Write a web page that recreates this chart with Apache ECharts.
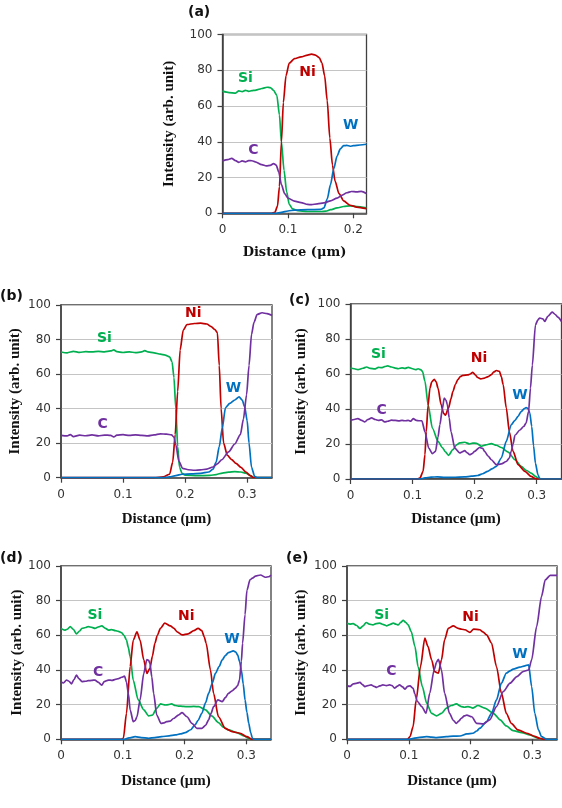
<!DOCTYPE html>
<html><head><meta charset="utf-8">
<script src="https://cdn.jsdelivr.net/npm/echarts@6/dist/echarts.min.js"></script>
<style>html,body{margin:0;padding:0;background:#fff}#c{width:562px;height:808px}</style>
</head><body><div id="c"></div>
<script>
// ---------- DATA (distance in µm, intensity in arb. unit) ----------
const A_Si = [[0,68.3],[0.01,67.5],[0.02,67.2],[0.025,68.5],[0.03,68],[0.035,68.8],[0.04,68.2],[0.045,68.6],[0.05,68.8],[0.055,69.3],[0.06,69.8],[0.068,70.5],[0.073,70.3],[0.078,68.8],[0.083,66],[0.087,55],[0.09,40],[0.094,24],[0.098,12],[0.102,5],[0.107,2.5],[0.115,1.5],[0.13,1],[0.15,1],[0.158,1.2],[0.165,2],[0.175,3],[0.185,3.8],[0.195,4.2],[0.205,3.8],[0.22,3]];
const A_Ni = [[0,0],[0.075,0],[0.08,0.5],[0.084,4],[0.087,15],[0.09,40],[0.093,62],[0.097,77],[0.102,84],[0.11,86.5],[0.12,87.5],[0.13,88.5],[0.136,89],[0.142,88.5],[0.148,87],[0.152,84],[0.156,77],[0.16,63],[0.164,42],[0.168,27],[0.172,18],[0.178,11],[0.185,7],[0.195,4.5],[0.205,3.5],[0.22,2.6]];
const A_W  = [[0,0],[0.082,0],[0.09,0.5],[0.1,1.3],[0.11,1.8],[0.13,2],[0.15,2.2],[0.155,3],[0.16,8],[0.165,16],[0.17,25],[0.175,32],[0.18,36],[0.185,37.8],[0.19,38],[0.195,37.5],[0.2,37.8],[0.21,38.2],[0.22,38.6]];
const A_C  = [[0,29.3],[0.008,30],[0.014,30.7],[0.02,29.5],[0.025,28.5],[0.03,29.3],[0.035,28.8],[0.04,29.5],[0.045,29.4],[0.05,28.8],[0.06,27.2],[0.067,26.5],[0.073,26.8],[0.078,27.8],[0.082,27],[0.086,23],[0.09,16],[0.095,11],[0.1,8.5],[0.11,6.8],[0.12,6],[0.13,5],[0.136,4.8],[0.145,5.3],[0.155,5.8],[0.165,7],[0.175,8.5],[0.183,10.2],[0.19,11.5],[0.197,12.2],[0.205,12],[0.212,12.3],[0.22,11]];

const B_Si = [[0,72.8],[0.01,72.3],[0.02,73.2],[0.03,72.6],[0.04,73],[0.05,72.8],[0.06,73.2],[0.07,72.9],[0.08,73.4],[0.085,74],[0.09,73],[0.1,72.5],[0.11,72.9],[0.12,72.4],[0.13,72.8],[0.135,73.6],[0.14,72.8],[0.15,72.3],[0.16,71.5],[0.168,71],[0.175,70],[0.179,67],[0.182,58],[0.185,40],[0.188,18],[0.191,6],[0.195,2.5],[0.2,1.5],[0.22,1.2],[0.24,1.3],[0.25,1.8],[0.26,2.7],[0.27,3.2],[0.28,3.5],[0.29,3.3],[0.298,2.6],[0.305,1.2],[0.312,0],[0.34,0]];
const B_Ni = [[0,0],[0.15,0],[0.165,0.5],[0.175,2],[0.18,9],[0.184,25],[0.188,50],[0.192,74],[0.197,85.5],[0.203,88.7],[0.215,89.3],[0.225,89.5],[0.235,89],[0.242,87.5],[0.248,85.8],[0.252,84],[0.255,65],[0.258,40],[0.262,20],[0.268,13],[0.275,10.5],[0.282,8.3],[0.29,6],[0.298,3.2],[0.305,1.2],[0.31,0],[0.34,0]];
const B_W  = [[0,0],[0.165,0],[0.175,0.5],[0.185,1.2],[0.195,2],[0.21,2.2],[0.225,2.5],[0.238,3.3],[0.245,5],[0.25,9],[0.255,18],[0.26,29],[0.265,40.5],[0.272,43],[0.28,45],[0.287,46.8],[0.292,45],[0.296,41],[0.3,33],[0.303,20],[0.307,6],[0.312,0.8],[0.316,0],[0.34,0]];
const B_C  = [[0,24.5],[0.01,24.2],[0.015,25],[0.02,23.8],[0.03,24.6],[0.04,24.3],[0.05,24.8],[0.06,24.2],[0.07,24.7],[0.08,24.5],[0.085,23.6],[0.09,24.6],[0.1,24.9],[0.11,24.5],[0.12,24.8],[0.13,24.5],[0.14,24.2],[0.15,24.8],[0.16,25.4],[0.17,25.2],[0.178,24.8],[0.182,23.5],[0.185,19],[0.19,9.5],[0.196,5.4],[0.205,4.6],[0.215,4.3],[0.225,4.5],[0.235,5],[0.245,6.2],[0.252,8],[0.259,10.4],[0.27,14.9],[0.28,19.5],[0.289,25],[0.294,34],[0.299,48],[0.303,65],[0.307,83],[0.311,90],[0.316,94.5],[0.324,95.5],[0.332,95],[0.34,94]];

const C_Si = [[0,63.4],[0.006,63],[0.012,62.5],[0.02,63.3],[0.026,64],[0.032,63.2],[0.039,62.9],[0.045,63.8],[0.05,63.6],[0.055,64.2],[0.06,64.6],[0.066,64],[0.072,63.4],[0.077,63],[0.083,63.5],[0.088,63.2],[0.093,63.8],[0.1,63],[0.105,62.5],[0.109,63],[0.113,62.5],[0.116,61.5],[0.12,55.8],[0.125,42.5],[0.132,29],[0.141,21.5],[0.148,18],[0.153,15.5],[0.158,13.5],[0.165,16.8],[0.171,19.5],[0.176,20.6],[0.184,21],[0.192,20],[0.197,20.5],[0.203,20.4],[0.211,18.7],[0.218,19.5],[0.227,20.2],[0.235,19.3],[0.243,18],[0.254,15.4],[0.265,11],[0.275,7.2],[0.283,5],[0.291,3.4],[0.298,1.5],[0.303,0.4],[0.308,0],[0.34,0]];
const C_Ni = [[0,0],[0.108,0],[0.112,0.6],[0.117,4.4],[0.12,14],[0.122,27],[0.125,42],[0.128,52],[0.131,55.5],[0.135,57],[0.138,55.5],[0.141,52],[0.146,42.5],[0.15,37.5],[0.153,36.5],[0.158,40.6],[0.162,46],[0.165,50],[0.169,54],[0.173,56.8],[0.177,58.5],[0.181,59.2],[0.189,59.5],[0.193,60],[0.197,61],[0.201,59.5],[0.205,58],[0.21,57.2],[0.216,57.7],[0.222,58.5],[0.227,59.6],[0.231,61.2],[0.235,62],[0.24,61.5],[0.243,58.5],[0.246,54],[0.251,40.6],[0.256,27],[0.262,15.8],[0.27,8.2],[0.281,4.4],[0.291,1.5],[0.298,0.2],[0.302,0],[0.34,0]];
const C_W  = [[0,0],[0.112,0],[0.12,0.6],[0.13,1.1],[0.14,1.2],[0.152,0.9],[0.165,1],[0.184,1.2],[0.195,1.6],[0.205,2],[0.213,3],[0.221,4.4],[0.228,5.8],[0.235,7.2],[0.243,12],[0.251,21.5],[0.259,31],[0.265,33.5],[0.27,35.8],[0.275,38.5],[0.28,40.2],[0.283,40.8],[0.286,40.3],[0.289,37.7],[0.292,30],[0.295,19],[0.298,9],[0.302,2.5],[0.305,0],[0.34,0]];
const C_C  = [[0,33.5],[0.006,34],[0.012,34.5],[0.018,33.5],[0.023,32.6],[0.028,34],[0.034,34.9],[0.04,34],[0.045,33.5],[0.05,33.8],[0.055,32.6],[0.06,33],[0.066,33.6],[0.072,33.5],[0.078,33.2],[0.083,33.5],[0.088,33.3],[0.093,33.5],[0.097,33],[0.101,34.5],[0.106,33.5],[0.111,33.3],[0.115,33.3],[0.12,27],[0.126,17.7],[0.132,14.5],[0.137,15.8],[0.141,24],[0.144,31],[0.148,40],[0.151,46.3],[0.154,45],[0.156,42.5],[0.159,35],[0.162,27],[0.168,17.7],[0.176,14.9],[0.18,15.5],[0.184,16.2],[0.188,15],[0.192,13.9],[0.196,14.5],[0.2,15.8],[0.208,18],[0.213,17.5],[0.216,15.8],[0.222,13],[0.227,11],[0.235,8.2],[0.243,8.6],[0.251,10],[0.256,12],[0.259,15.8],[0.262,20],[0.265,25],[0.273,28],[0.279,30],[0.283,32],[0.287,38.7],[0.29,52],[0.293,65],[0.298,88],[0.302,91],[0.305,92],[0.31,91.5],[0.313,90],[0.318,93],[0.325,95.4],[0.33,94],[0.334,92.5],[0.34,90]];

const D_Si = [[0,64],[0.006,63],[0.01,63.5],[0.015,65],[0.02,63.5],[0.025,60.8],[0.03,62.5],[0.034,64],[0.04,64.5],[0.044,65],[0.05,64.6],[0.055,64],[0.06,64.8],[0.066,65.4],[0.072,64],[0.077,63],[0.082,63.3],[0.088,62.7],[0.093,62.3],[0.098,61.5],[0.102,60],[0.106,57.3],[0.109,53],[0.112,47.7],[0.117,34],[0.125,22.7],[0.134,17],[0.142,13.5],[0.148,14],[0.155,17.9],[0.161,20.4],[0.169,19.8],[0.174,20],[0.179,20.4],[0.185,19.5],[0.19,19.2],[0.198,19],[0.206,18.8],[0.215,19],[0.223,18.8],[0.234,17],[0.244,13.5],[0.255,9.6],[0.263,7],[0.271,5.4],[0.285,3.8],[0.296,1.9],[0.306,0.2],[0.31,0],[0.34,0]];
const D_Ni = [[0,0],[0.098,0],[0.101,0.6],[0.106,15],[0.112,42],[0.117,57.3],[0.123,62],[0.128,57.3],[0.134,45.8],[0.139,38],[0.144,41],[0.148,48],[0.152,55.4],[0.156,60],[0.161,64],[0.168,67],[0.177,65.4],[0.183,64],[0.188,62],[0.196,60.2],[0.206,60.8],[0.215,62.7],[0.222,64],[0.228,62.7],[0.232,59],[0.235,55.4],[0.242,40],[0.247,26.5],[0.255,13],[0.266,6.3],[0.277,4.4],[0.29,3.5],[0.301,1.5],[0.309,0],[0.34,0]];
const D_W  = [[0,0],[0.103,0],[0.11,0.8],[0.12,1.5],[0.13,1],[0.142,0.6],[0.152,1],[0.163,1.5],[0.175,2],[0.185,2.5],[0.193,3.1],[0.201,3.8],[0.21,5.5],[0.217,8.3],[0.222,11],[0.228,15],[0.234,21],[0.239,26.5],[0.245,32.5],[0.25,38],[0.256,42],[0.261,45.8],[0.266,48.3],[0.271,50],[0.279,51],[0.283,50.3],[0.286,48.7],[0.289,45],[0.292,40],[0.295,32],[0.298,22.7],[0.301,15.5],[0.304,9.2],[0.307,4],[0.31,0.5],[0.313,0],[0.34,0]];
const D_C  = [[0,33.3],[0.004,32.5],[0.009,34.2],[0.013,33.5],[0.017,32],[0.021,34.5],[0.025,37],[0.029,35],[0.034,33.3],[0.04,33.5],[0.044,33.8],[0.05,34],[0.055,34.2],[0.06,33],[0.066,31.3],[0.07,33.3],[0.077,34.2],[0.083,34],[0.088,34.6],[0.093,35],[0.098,35.8],[0.103,36.5],[0.106,33],[0.109,26.5],[0.112,17],[0.117,10.2],[0.12,10.8],[0.123,13],[0.128,22.7],[0.134,38],[0.139,46],[0.142,45.5],[0.144,43.8],[0.147,36],[0.15,26.5],[0.155,14],[0.162,9.2],[0.167,9.5],[0.171,10.2],[0.177,10.5],[0.182,12],[0.19,14],[0.196,15.4],[0.204,13],[0.212,9.2],[0.22,6.3],[0.228,6.3],[0.234,8],[0.239,11.2],[0.243,15],[0.247,18.8],[0.254,22.7],[0.261,21.7],[0.266,24],[0.271,26.5],[0.277,28],[0.282,29.4],[0.286,31],[0.289,34.2],[0.292,45],[0.294,55.4],[0.298,72],[0.301,86],[0.306,92],[0.31,93],[0.315,94.2],[0.323,94.8],[0.331,93.5],[0.336,93.8],[0.34,94.8]];

const E_Si = [[0,67],[0.005,66.5],[0.01,66.7],[0.015,65.8],[0.021,64],[0.026,65.5],[0.031,67.4],[0.036,66.5],[0.042,66],[0.047,66.8],[0.053,67],[0.058,66.3],[0.064,65.5],[0.069,66.2],[0.075,67],[0.079,66.5],[0.083,66],[0.087,67.5],[0.091,68.6],[0.095,67.5],[0.099,66],[0.104,62.2],[0.11,53.6],[0.115,42],[0.122,30.4],[0.129,20.8],[0.137,15],[0.145,13.5],[0.153,15],[0.161,18],[0.169,19.5],[0.177,20.4],[0.185,18.9],[0.19,18.5],[0.196,18.9],[0.204,18],[0.212,19.5],[0.223,18],[0.237,15],[0.248,11.2],[0.258,7.7],[0.269,5],[0.283,3.9],[0.296,2.5],[0.307,1],[0.318,0],[0.34,0]];
const E_Ni = [[0,0],[0.098,0],[0.102,1.5],[0.107,7.3],[0.112,22.7],[0.119,42],[0.126,58.4],[0.131,53.6],[0.137,45.9],[0.142,39],[0.148,38.2],[0.153,45.9],[0.158,57.4],[0.164,64],[0.172,65.5],[0.18,64],[0.186,63.5],[0.191,63.2],[0.199,61.7],[0.205,63.6],[0.215,63.2],[0.22,62],[0.226,60.3],[0.234,55.5],[0.242,42],[0.25,26.6],[0.258,15],[0.266,9.2],[0.277,5.4],[0.291,3.5],[0.302,1.9],[0.312,0.6],[0.318,0],[0.34,0]];
const E_W  = [[0,0],[0.1,0],[0.104,0.3],[0.115,1],[0.129,1.5],[0.137,1.2],[0.145,1],[0.161,1.5],[0.172,1.8],[0.183,1.9],[0.194,3.1],[0.204,3.5],[0.21,4.8],[0.215,6.4],[0.226,10.2],[0.234,15],[0.242,22.7],[0.25,32.4],[0.258,38.2],[0.264,39.5],[0.269,40.5],[0.28,41.6],[0.288,42.4],[0.294,43],[0.299,30.4],[0.304,15],[0.31,5.4],[0.315,1.5],[0.323,0],[0.34,0]];
const E_C  = [[0,30.8],[0.005,30.5],[0.01,32],[0.015,32.3],[0.021,32.8],[0.025,31.5],[0.029,30.4],[0.034,31],[0.039,31.4],[0.044,30.5],[0.048,30],[0.053,30.8],[0.058,31.4],[0.064,31],[0.069,31.4],[0.073,31],[0.077,29.5],[0.081,30.5],[0.085,31.4],[0.09,30.2],[0.094,28.9],[0.098,30.5],[0.102,30.8],[0.107,29.5],[0.11,26],[0.114,21.8],[0.121,18.9],[0.128,15],[0.134,26.6],[0.141,40],[0.145,44.5],[0.148,46.2],[0.153,40],[0.158,26.6],[0.166,15],[0.172,11],[0.177,9.2],[0.181,10.5],[0.185,12.1],[0.19,13.5],[0.194,14],[0.202,13],[0.21,9.2],[0.221,8.9],[0.231,11.2],[0.242,18.9],[0.253,27.5],[0.264,32.4],[0.275,36.2],[0.285,39.1],[0.294,40],[0.299,45.9],[0.307,65],[0.315,82.5],[0.321,92],[0.329,94.6],[0.34,94.6]];

const elements = ['Si', 'Ni', 'W', 'C'];
const panelNames = ['(a)', '(b)', '(c)', '(d)', '(e)'];
const xMaxes = [0.22, 0.34, 0.34, 0.34, 0.34];
const xTickValues = [[0, 0.1, 0.2], [0, 0.1, 0.2, 0.3], [0, 0.1, 0.2, 0.3], [0, 0.1, 0.2, 0.3], [0, 0.1, 0.2, 0.3]];
const seriesData = [
  [A_Si, A_Ni, A_W, A_C],
  [B_Si, B_Ni, B_W, B_C],
  [C_Si, C_Ni, C_W, C_C],
  [D_Si, D_Ni, D_W, D_C],
  [E_Si, E_Ni, E_W, E_C]
];

// ---------- LAYOUT / STYLE ----------
const colors = {Si: '#00B050', Ni: '#C00000', W: '#0070C0', C: '#7030A0'};
const grids = [
  {left: 222.5, top: 34.5, width: 144, height: 178.8},
  {left: 61, top: 305, width: 211, height: 172.7},
  {left: 350.5, top: 304, width: 211, height: 175},
  {left: 61, top: 566, width: 210, height: 173.3},
  {left: 347, top: 566, width: 210, height: 173.3}
];
// anchor positions (data coords) of the element-name annotations
const labelAnchors = [
  {Si: [0.035, 75.5], Ni: [0.13, 79], W: [0.196, 49], C: [0.047, 35.4]},
  {Si: [0.07, 80.6], Ni: [0.213, 95], W: [0.278, 51.6], C: [0.067, 30.7]},
  {Si: [0.045, 71.4], Ni: [0.207, 69], W: [0.273, 47.8], C: [0.05, 39]},
  {Si: [0.055, 71.3], Ni: [0.203, 70.8], W: [0.277, 57.7], C: [0.06, 38.7]},
  {Si: [0.056, 71.5], Ni: [0.2, 70.5], W: [0.28, 49.3], C: [0.072, 39.3]}
];
const panelLabelPos = [[188, 5], [0, 289], [289, 293], [0, 551], [286, 551]];
const yNameGap = [46, 38, 42, 36, 38];
const xNameGap = [33, 34, 33, 34, 34];

const axisColor = '#404040';
const tickFont = {fontFamily: 'DejaVu Sans', fontSize: 12, color: '#333'};
const titleFont = {fontFamily: 'Liberation Serif', fontWeight: 'bold', fontSize: 15, color: '#111'};

const option = {
  animation: false,
  backgroundColor: '#fff',
  title: panelNames.map((t, i) => ({
    text: t, left: panelLabelPos[i][0], top: panelLabelPos[i][1], padding: 0,
    textStyle: {fontFamily: 'DejaVu Sans', fontWeight: 'bold', fontSize: 14, color: '#111'}
  })),
  grid: grids.map(g => Object.assign({show: true, borderColor: axisColor, borderWidth: 1.3, backgroundColor: 'transparent'}, g)),
  xAxis: grids.map((g, i) => ({
    type: 'value', gridIndex: i, min: 0, max: xMaxes[i],
    name: 'Distance (μm)', nameLocation: 'middle', nameGap: xNameGap[i],
    nameTextStyle: Object.assign({}, titleFont, i === 0 ? {fontFamily: 'DejaVu Serif', fontSize: 13} : {}),
    axisLine: {show: true, onZero: false, lineStyle: {color: axisColor, width: 1.5}},
    axisTick: {show: true, length: 5, customValues: xTickValues[i], lineStyle: {color: axisColor, width: 1.2}},
    axisLabel: Object.assign({margin: 11, customValues: xTickValues[i]}, tickFont),
    splitLine: {show: false}
  })),
  yAxis: grids.map((g, i) => ({
    type: 'value', gridIndex: i, min: 0, max: 100, interval: 20,
    name: 'Intensity (arb. unit)', nameLocation: 'middle', nameGap: yNameGap[i], nameRotate: 90,
    nameTextStyle: titleFont,
    axisLine: {show: true, lineStyle: {color: axisColor, width: 1.5}},
    axisTick: {show: true, length: 5, lineStyle: {color: axisColor, width: 1.2}},
    axisLabel: Object.assign({margin: 10}, tickFont),
    splitLine: {show: true, lineStyle: {color: '#c4c4c4', width: 1}}
  })),
  series: []
};

seriesData.forEach((set, i) => {
  elements.forEach((el, k) => {
    option.series.push({
      type: 'line', name: el, xAxisIndex: i, yAxisIndex: i,
      data: set[k], showSymbol: false, symbol: 'none',
      smooth: 0.25, smoothMonotone: 'x',
      lineStyle: {color: colors[el], width: 1.7},
      z: 3, silent: true
    });
  });
  option.series.push({
    type: 'scatter', xAxisIndex: i, yAxisIndex: i, symbolSize: 1, silent: true, z: 5,
    itemStyle: {color: 'rgba(0,0,0,0)'},
    data: elements.map(el => ({
      value: labelAnchors[i][el], name: el,
      label: {
        show: true, position: 'inside', formatter: '{b}',
        fontFamily: 'DejaVu Sans', fontWeight: 'bold', fontSize: 14,
        color: colors[el], textBorderWidth: 0, textBorderColor: 'rgba(0,0,0,0)', opacity: 1
      }
    }))
  });
});

const chart = echarts.init(document.getElementById('c'), null, {renderer: 'canvas'});
chart.setOption(option);
</script>
</body></html>
